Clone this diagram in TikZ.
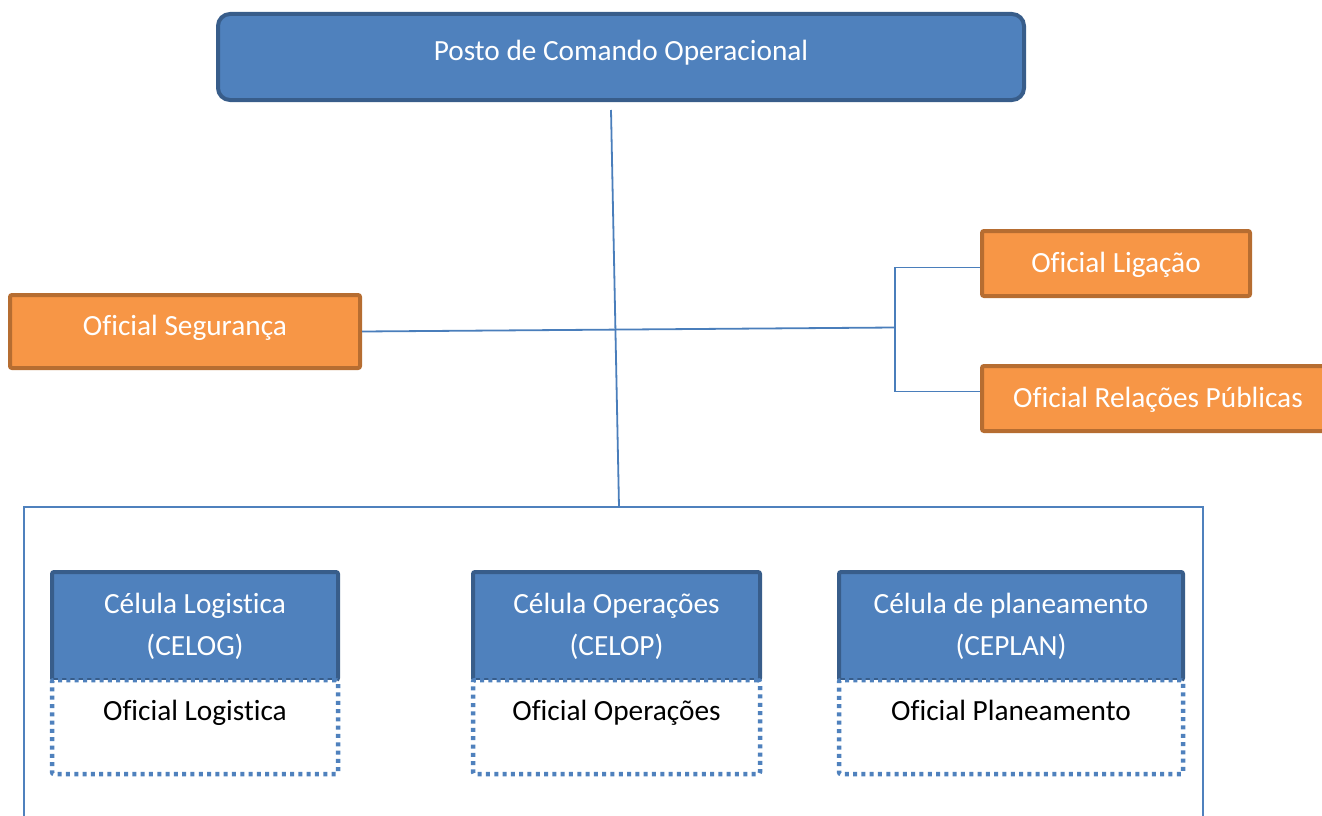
\documentclass[tikz,border=0pt]{standalone}
\usepackage{fontspec}
\setmainfont{Carlito}[Ligatures=NoCommon]
\definecolor{azul}{HTML}{4F81BD}
\definecolor{azulborda}{HTML}{385D8A}
\definecolor{laranja}{HTML}{F79646}
\definecolor{laranjaborda}{HTML}{B66D31}
\definecolor{linha}{HTML}{4A7EBB}
\begin{document}
\begin{tikzpicture}[x=1pt,y=-1pt,
  dims/.style 2 args={minimum width=#1pt, minimum height=#2pt, inner sep=0pt},
  chefe/.style={draw=azulborda, fill=azul, line width=4pt, rounded corners=12pt},
  oficial/.style={draw=laranjaborda, fill=laranja, line width=4pt, rounded corners=2pt},
  celula/.style={draw=azulborda, fill=azul, line width=4pt, rounded corners=2pt},
  membro/.style={draw=azul, fill=white, line width=4.5pt, dash pattern=on 4pt off 4.3pt, rounded corners=2pt},
  grupo/.style={draw=azul, line width=1.8pt},
  conn/.style={draw=linha, line width=1.8pt},
  rotulo/.style={font=\fontsize{29.3}{35}\selectfont, anchor=base, inner sep=0pt},
  rotbranco/.style={rotulo, text=white},
  rotpreto/.style={rotulo, text=black}]
\useasboundingbox (0,0) rectangle (1322,816);
\clip (0,0) rectangle (1322,816);

% outer frame holding the three cells
\node[grupo, dims={1179}{323}] (grupo) at (613.5,668.5) {};

% command post
\node[chefe, dims={806}{86}] (posto) at (621,57) {};
\node[rotbranco] (tposto) at (621,60) {Posto de Comando Operacional};

% staff officers
\node[oficial, dims={350}{73}] (seguranca) at (185,331.5) {};
\node[rotbranco] (tseguranca) at (185,335) {Oficial Segurança};
\node[oficial, dims={268}{65}] (ligacao) at (1116,263.5) {};
\node[rotbranco] (tligacao) at (1116,272) {Oficial Ligação};
\node[oficial, dims={352}{65}] (relacoes) at (1158,398.5) {};
\node[rotbranco] (trelacoes) at (1158,407) {Oficial Relações Públicas};

% connectors
\coordinate (vtop) at (611,110);
\coordinate (vbot) at (619,507);
\coordinate (jmid) at (895,327.5);
\coordinate (jtop) at (895,267.5);
\coordinate (jbot) at (895,391.5);
\draw[conn] (vtop) -- (vbot);
\draw[conn] (seguranca.east) -- (jmid);
\draw[conn] (ligacao.west |- jtop) -| (jbot) -- (relacoes.west |- jbot);

% cells
\node[celula, dims={286}{108}] (celog) at (195,626) {};
\node[membro, dims={286}{94}] (offlog) at (195,727) {};
\node[rotbranco] at (195,613) {Célula Logistica};
\node[rotbranco] at (195,655) {(CELOG)};
\node[rotpreto] at (195,720) {Oficial Logistica};

\node[celula, dims={287}{108}] (celop) at (616.5,626) {};
\node[membro, dims={287}{94}] (offop) at (616.5,727) {};
\node[rotbranco] at (616.5,613) {Célula Operações};
\node[rotbranco] at (616.5,655) {(CELOP)};
\node[rotpreto] at (616.5,720) {Oficial Operações};

\node[celula, dims={344}{108}] (ceplan) at (1011,626) {};
\node[membro, dims={344}{94}] (offplan) at (1011,727) {};
\node[rotbranco] at (1011,613) {Célula de planeamento};
\node[rotbranco] at (1011,655) {(CEPLAN)};
\node[rotpreto] at (1011,720) {Oficial Planeamento};
\end{tikzpicture}
\end{document}
